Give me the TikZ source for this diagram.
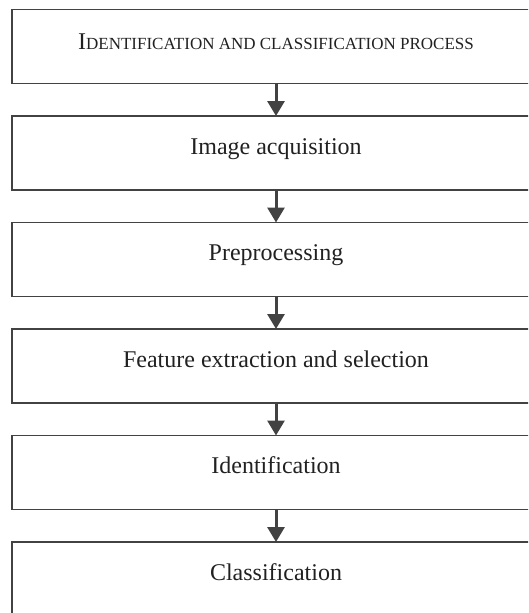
\documentclass[tikz,border=0pt]{standalone}
\usepackage{fontspec}
\setmainfont{Liberation Serif}
\usetikzlibrary{positioning}
\usetikzlibrary{arrows.meta}
\definecolor{linegray}{rgb}{0.26,0.26,0.26}
\definecolor{textgray}{rgb}{0.13,0.13,0.13}
\newcommand{\fakesc}[2]{{#1}{\fontsize{17}{20}\selectfont #2}}

\begin{document}
\begin{tikzpicture}[x=1pt,y=1pt,
    stepbox/.style={draw=linegray,line width=1.6pt,rectangle,minimum width=528pt,
      minimum height=74pt,outer sep=0pt,inner sep=0pt,text=textgray,
      font=\fontsize{24}{28}\selectfont,text height=0.7em,text depth=0.45em},
    flow/.style={draw=linegray,line width=3pt,-{Triangle[width=17pt,length=15pt]}}]
      \useasboundingbox (0,0) rectangle (528,-613);
      \clip (0,0) rectangle (528,-613);
      \node[stepbox,text depth=0.15em] (proc) at (276,-46.5) {\fakesc{I}{DENTIFICATION AND CLASSIFICATION PROCESS}};
      \node[stepbox,below=32.5pt of proc] (acq) {Image acquisition};
      \node[stepbox,below=32.5pt of acq] (prep) {Preprocessing};
      \node[stepbox,below=32.5pt of prep] (feat) {Feature extraction and selection};
      \node[stepbox,below=32.5pt of feat] (ident) {Identification};
      \node[stepbox,below=32.5pt of ident] (classif) {Classification};

      \draw[flow] (proc) -- (acq);
      \draw[flow] (acq) -- (prep);
      \draw[flow] (prep) -- (feat);
      \draw[flow] (feat) -- (ident);
      \draw[flow] (ident) -- (classif);
    \end{tikzpicture}
\end{document}
